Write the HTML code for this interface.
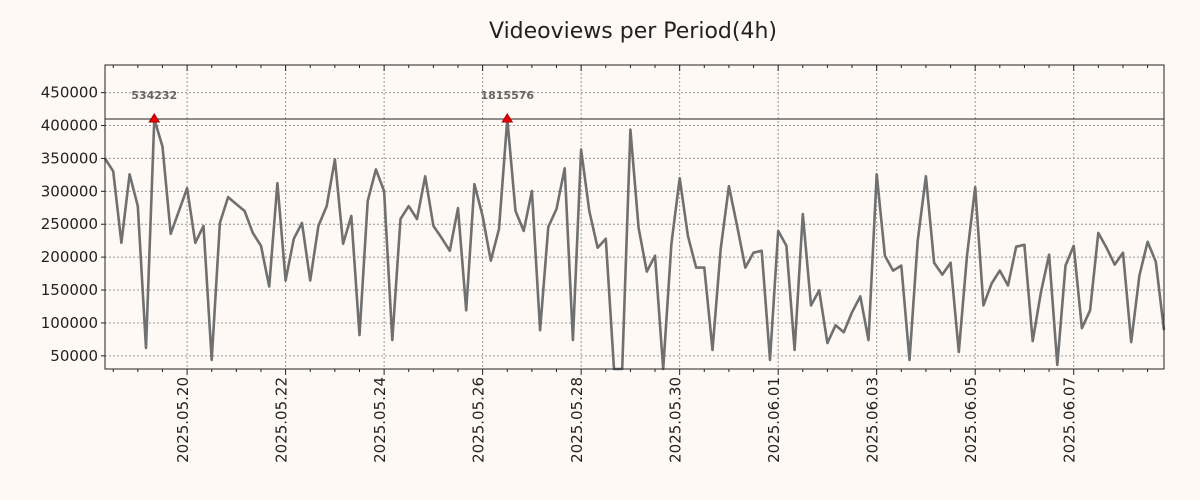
<!DOCTYPE html>
<html><head><meta charset="utf-8"><style>
html,body{margin:0;padding:0;background:#fef9f5;}
svg{display:block;font-family:"DejaVu Sans","Liberation Sans",sans-serif;}
</style></head><body>
<svg width="1200" height="500" viewBox="0 0 1200 500">
<rect width="1200" height="500" fill="#fef9f5"/>
<text x="633" y="38" text-anchor="middle" font-size="22" fill="#222">Videoviews per Period(4h)</text>
<g id="grid"></g>
<g id="plot"></g>
<g id="axes"></g>
</svg>
<script>
const values=[350000,330400,221800,325900,277600,61900,534232,368000,235400,270000,304800,221800,247400,43800,252000,291200,280600,270100,236900,217300,155400,312300,164500,227800,252000,164500,247400,277600,348500,220300,262500,81500,285200,333400,300300,73900,258000,277600,258000,322900,247400,229300,209700,274600,119200,310800,262500,194600,242900,1815576,270100,239900,300300,89000,245900,273100,335000,73900,363600,270100,214300,227800,20000,20000,393800,244400,178000,202200,20000,220300,319900,232400,184100,184100,58800,212700,307800,247400,184100,206700,209700,43800,239900,217300,58800,265500,126700,149400,69400,96600,86000,116200,140300,73900,325900,202200,179500,187100,43800,224800,322900,191600,173500,191600,55800,202200,306300,126700,159900,179500,156900,215800,218800,72400,146400,203700,36200,187100,217300,92000,119200,236900,214300,188600,206700,70900,172000,223300,193100,89000];
const yTicks=[50000,100000,150000,200000,250000,300000,350000,400000,450000];
const xTickLabels=["2025.05.20","2025.05.22","2025.05.24","2025.05.26","2025.05.28","2025.05.30","2025.06.01","2025.06.03","2025.06.05","2025.06.07"];
const xTickIndex=[10,22,34,46,58,70,82,94,106,118];
const capValue=410000;

const L=105,R=1164,T=65,B=369,yMin=30000,yMax=492000;
const n=values.length;
const sx=i=>L+i*(R-L)/(n-1);
const sy=v=>B-(Math.max(yMin,Math.min(yMax,v))-yMin)/(yMax-yMin)*(B-T);
const NS="http://www.w3.org/2000/svg";
function mk(tag,attrs,parent){const e=document.createElementNS(NS,tag);for(const k in attrs)e.setAttribute(k,attrs[k]);parent.appendChild(e);return e;}
const grid=document.getElementById('grid'),plot=document.getElementById('plot'),axes=document.getElementById('axes');

yTicks.forEach(v=>{
  const y=sy(v);
  const g=mk('line',{x1:L,x2:R,y1:y,y2:y,stroke:'#999','stroke-dasharray':'2,2','stroke-width':1},grid);
  
  
  const t=mk('line',{x1:L-4,x2:L,y1:y,y2:y,stroke:'#222'},axes);
  
  
  const tx=mk('text',{x:L-7,y:y+5,'text-anchor':'end','font-size':15,fill:'#222'},axes);
  tx.textContent=String(v);
  
  
});
for(let i=1;i<n;i+=3){
  const x=sx(i);
  const major=xTickIndex.includes(i);
  const t1=mk('line',{x1:x,x2:x,y1:B,y2:B+(major?6:3),stroke:'#222'},axes);
  
  
  const t2=mk('line',{x1:x,x2:x,y1:T,y2:T+(major?6:3),stroke:'#222'},axes);
  
  
}
xTickIndex.forEach((idx,k)=>{
  const x=sx(idx);
  const g=mk('line',{x1:x,x2:x,y1:T,y2:B,stroke:'#999','stroke-dasharray':'2,2'},grid);
  
  
  const tx=mk('text',{x:0,y:0,'text-anchor':'end','font-size':15,fill:'#222',transform:`translate(${x+1},${B+8}) rotate(-90)`},axes);
  tx.textContent=xTickLabels[k];
  
  
});
const capY=sy(capValue);
const cl=mk('line',{x1:L,x2:R,y1:capY,y2:capY,stroke:'#222','stroke-width':1},plot);


const pts=values.map((v,i)=>sx(i).toFixed(1)+','+sy(Math.min(v,capValue)).toFixed(1)).join(' ');
const pl=mk('polyline',{points:pts,fill:'none',stroke:'#707070','stroke-width':2.6,'stroke-linejoin':'round'},plot);


values.forEach((v,i)=>{
  if(v>capValue){
    const x=sx(i),y=capY;
    const m=mk('polygon',{points:`${x-5},${y+3} ${x+5},${y+3} ${x},${y-5}`,fill:'#ee0000',stroke:'#aa0000','stroke-width':1},plot);
    
    
    const t=mk('text',{x:x,y:y-20,'text-anchor':'middle','font-size':11,fill:'#666','font-weight':'bold'},plot);
    t.textContent=String(v);
    
    
  }
});
const fr=mk('rect',{x:L,y:T,width:R-L,height:B-T,fill:'none',stroke:'#222','stroke-width':1},axes);


</script>
</body></html>
